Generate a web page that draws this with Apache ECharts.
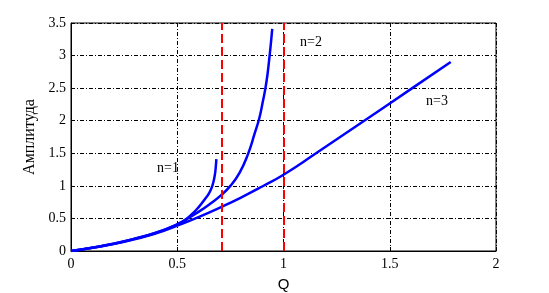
<!DOCTYPE html>
<html><head><meta charset="utf-8">
<script src="https://cdn.jsdelivr.net/npm/echarts@6/dist/echarts.min.js"></script>
<style>html,body{margin:0;padding:0;background:#fff}#c{width:549px;height:293px}</style>
</head><body><div id="c"></div>
<script>
const xTicks = [0, 0.5, 1, 1.5, 2];
const yTicks = [0, 0.5, 1, 1.5, 2, 2.5, 3, 3.5];
const n1 = [[0,0],[0.1,0.05],[0.2,0.11],[0.3,0.19],[0.4,0.28],[0.5,0.41],[0.535,0.47],[0.574,0.58],[0.6,0.67],[0.629,0.79],[0.65,0.89],[0.665,1.0],[0.676,1.15],[0.681,1.28],[0.684,1.41]];
const n2 = [[0,0],[0.1,0.05],[0.2,0.11],[0.3,0.19],[0.4,0.28],[0.5,0.41],[0.559,0.52],[0.6,0.6],[0.653,0.72],[0.704,0.85],[0.75,1.0],[0.793,1.2],[0.832,1.48],[0.864,1.8],[0.887,2.05],[0.903,2.3],[0.915,2.5],[0.925,2.72],[0.934,2.98],[0.941,3.2],[0.947,3.41]];
const n3 = [[0,0],[0.1,0.05],[0.25,0.14],[0.4,0.27],[0.5,0.39],[0.6,0.52],[0.704,0.67],[0.8,0.82],[0.9,0.99],[1.0,1.17],[1.153,1.5],[1.38,2.0],[1.606,2.5],[1.787,2.9]];
const vLines = [0.7071, 1.0];
const labels = [{t:'n=1', x:157, y:161}, {t:'n=2', x:300, y:35}, {t:'n=3', x:426, y:94}];

const chart = echarts.init(document.getElementById('c'));
const grid = {left:71, right:53, top:23, bottom:42, outerBoundsMode:'none', containLabel:false, show:true, borderColor:'#000', borderWidth:1};
const splitDash = {show:true, lineStyle:{color:'#000', width:1, type:[4,2,1,2]}};
const serif = '"Liberation Serif", "Times New Roman", serif';
const line = (d) => ({type:'line', data:d, smooth:0.5, showSymbol:false, lineStyle:{color:'#0000ff', width:2.5}, z:3, silent:true});
chart.setOption({
  animation:false,
  grid: grid,
  xAxis: {type:'value', min:0, max:2, interval:0.5, name:'Q', nameLocation:'middle', nameGap:26,
    nameTextStyle:{fontFamily:'"Liberation Sans", Arial, sans-serif', fontSize:15, color:'#000'},
    axisLine:{lineStyle:{color:'#000'}}, axisTick:{inside:true, length:4, lineStyle:{color:'#000'}},
    axisLabel:{fontFamily:serif, fontSize:14, color:'#000', margin:6}, splitLine:splitDash},
  yAxis: {type:'value', min:0, max:3.5, interval:0.5, name:'Амплитуда', nameLocation:'middle', nameGap:32,
    nameTextStyle:{fontFamily:serif, fontSize:16, color:'#000'},
    axisLine:{show:true, lineStyle:{color:'#000'}}, axisTick:{show:true, inside:true, length:4, lineStyle:{color:'#000'}},
    axisLabel:{fontFamily:serif, fontSize:14, color:'#000', margin:5}, splitLine:splitDash},
  series: [
    line(n1), line(n2),
    Object.assign(line(n3), {markLine:{silent:true, symbol:'none', label:{show:false},
      lineStyle:{color:'#ff0000', width:2, type:[9,4]},
      data: vLines.map(v => ({xAxis:v}))}})
  ],
  graphic: labels.map(l => ({type:'text', left:l.x, top:l.y, style:{text:l.t, font:'14px "Liberation Serif", serif', fill:'#000'}}))
});
</script></body></html>
